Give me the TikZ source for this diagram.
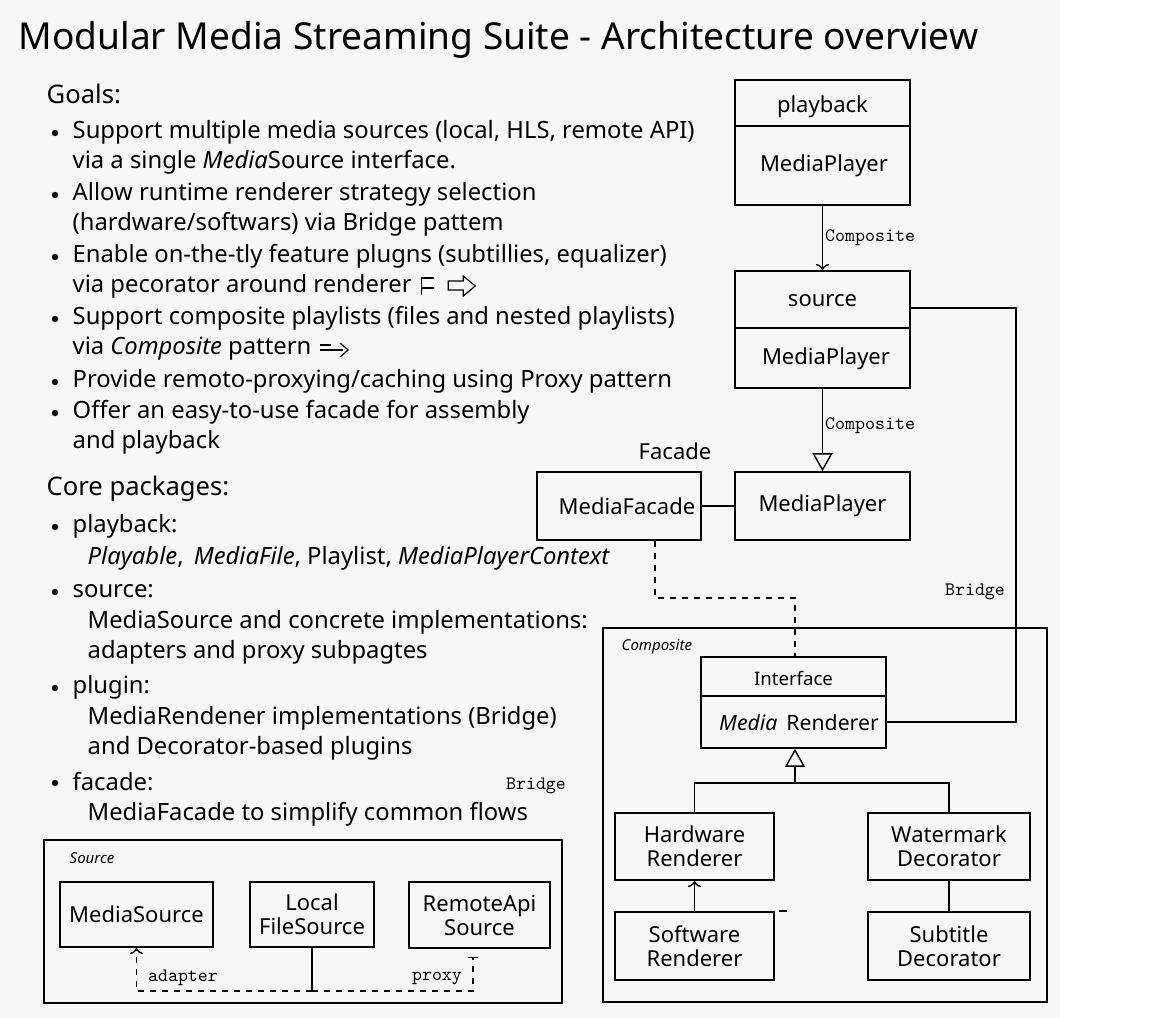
\documentclass[tikz,border=0pt]{standalone}
\usepackage{fontspec}
\setmainfont{Noto Sans}
\usetikzlibrary{arrows.meta,positioning}

\begin{document}
\begin{tikzpicture}[x=0.5pt,y=-0.5pt,
    box/.style={draw, line width=0.8pt, inner sep=0pt, align=center, font=\fontsize{11}{12}\selectfont},
    pkg/.style={draw, line width=0.8pt, inner sep=0pt},
    txt/.style={anchor=west, inner sep=0pt, font=\fontsize{11.9}{14}\selectfont},
    head/.style={anchor=west, inner sep=0pt, font=\fontsize{12.8}{15}\selectfont},
    bul/.style={circle, fill, inner sep=0pt, minimum size=3.2pt},
    lbl/.style={inner sep=1pt, font=\ttfamily\fontsize{9.5}{11}\selectfont},
    tag/.style={anchor=west, inner sep=0pt, font=\itshape\fontsize{7.5}{9}\selectfont},
    tri/.style={-{Triangle[open, width=10pt, length=9pt]}},
    line width=0.7pt]
    % canvas, pixel units
    \useasboundingbox (0,0) rectangle (1152,1018);
    \fill[black!3] (0,0) rectangle (1060,1018);

    % Title
    \node[anchor=west, inner sep=0pt, font=\fontsize{18.55}{22}\selectfont] (title) at (18,40)
        {Modular Media Streaming Suite - Architecture overview};

    % Goals
    \node[head] (goals) at (46,94) {Goals:};
    \foreach \y [count=\i] in {133,195,257,319,382,413}
        \node[bul] (gb\i) at (55,\y) {};
    \node[txt] (g1) at (72,132) {Support multiple media sources (local, HLS, remote API)};
    \node[txt] (g2) at (72,162) {via a single \textit{Media}Source interface.};
    \node[txt] (g3) at (72,194) {Allow runtime renderer strategy selection};
    \node[txt] (g4) at (72,224) {(hardware/softwars) via Bridge pattem};
    \node[txt] (g5) at (72,256) {Enable on-the-tly feature plugns (subtillies, equalizer)};
    \node[txt] (g6) at (72,286) {via pecorator around renderer};
    \node[txt] (g7) at (72,318) {Support composite playlists (files and nested playlists)};
    \node[txt] (g8) at (72,349) {via \textit{Composite} pattern};
    \node[txt] (g9) at (72,381) {Provide remoto-proxying/caching using Proxy pattern};
    \node[txt] (g10) at (72,412) {Offer an easy-to-use facade for assembly};
    \node[txt] (g11) at (72,442) {and playback};

    % little marks after the text
    \begin{scope}[shift={(g6.east)}, line width=0.6pt]
        \draw (9,9) -- (9,-8) -- (22,-8) (9,2) -- (22,2);
        \draw (36,-5) -- (51,-5) -- (51,-10) -- (63,0) -- (51,10) -- (51,4) -- (36,4) -- cycle;
    \end{scope}
    \begin{scope}[shift={(g8.east)}, line width=0.6pt]
        \draw (8,-4) -- (19,-4) (8,1) -- (31,1);
        \draw (28,-6) -- (36,1) -- (28,8);
    \end{scope}

    % Core packages
    \node[head] (core) at (46,489) {Core packages:};
    \foreach \y [count=\i] in {527,592,688,783}
        \node[bul] (cb\i) at (55,\y) {};
    \node[txt] (c1) at (72,526) {playback:};
    \node[txt] (c2) at (87,558) {\textit{Playable},\, \textit{MediaFile}, Playlist, \textit{MediaPlayerContext}};
    \node[txt] (c3) at (72,591) {source:};
    \node[txt] (c4) at (87,622) {MediaSource and concrete implementations:};
    \node[txt] (c5) at (87,652) {adapters and proxy subpagtes};
    \node[txt] (c6) at (72,687) {plugin:};
    \node[txt] (c7) at (87,718) {MediaRendener implementations (Bridge)};
    \node[txt] (c8) at (87,748) {and Decorator-based plugins};
    \node[txt] (c9) at (72,782) {facade:};
    \node[txt] (c10) at (87,814) {MediaFacade to simplify common flows};
    \node[lbl] (bridgeA) at (536,786) {Bridge};

    % Source package
    \node[pkg, minimum width=259pt, minimum height=81.5pt] (srcpkg) at (303,921.5) {};
    \node[tag] (srctag) at (69,858) {Source};
    \node[box, minimum width=76.5pt, minimum height=32.5pt] (ms) at (136.5,914.5) {MediaSource};
    \node[box, minimum width=62pt, minimum height=32.5pt] (lfs) at (312,914.5) {Local\\FileSource};
    \node[box, minimum width=70.5pt, minimum height=33pt, line width=0.6pt] (ras) at (479.5,915) {RemoteApi\\Source};
    \coordinate (jn) at (312,991);
    \coordinate (prx) at (473,957);
    \draw (lfs) -- (jn);
    \draw[dashed, ->] (jn) -| (ms);
    \draw[dashed, -{Bar[width=5pt]}] (jn) -| (prx);
    \node[lbl] (adp) at (183,978) {adapter};
    \node[lbl] (pxy) at (437,978) {proxy};

    % playback / source / facade
    \node[box, minimum width=87.5pt, minimum height=62.5pt] (pb) at (822.5,142.5) {};
    \draw (pb.west |- 0,126) -- (pb.east |- 0,126);
    \node[box, draw=none] (pbname) at (822.5,107) {playback};
    \node[box, draw=none] (pbcls) at (824,166) {MediaPlayer};

    \node[box, minimum width=87.5pt, minimum height=58.5pt] (src) at (822.5,329.5) {};
    \draw (src.west |- 0,328) -- (src.east |- 0,328);
    \node[box, draw=none] (srcname) at (822.5,301) {source};
    \node[box, draw=none] (srccls) at (826,359) {MediaPlayer};

    \node[box, minimum width=87.5pt, minimum height=34pt] (mp) at (822.5,506) {MediaPlayer};
    \node[box, minimum width=82pt, minimum height=34pt] (mf) at (619,506) {\hspace{8pt}MediaFacade};
    \node[box, draw=none] (fcd) at (675,451) {Facade};

    \draw[->] (pb) -- (src) node[lbl, midway, right] {Composite};
    \draw[tri] (src) -- (mp) node[lbl, midway, right, yshift=2pt] {Composite};
    \draw (mf) -- (mp);

    % Composite package
    \node[pkg, minimum width=222pt, minimum height=187pt] (cmppkg) at (825,815) {};
    \node[tag] (cmptag) at (621,647) {Composite};
    \node[box, minimum width=92.5pt, minimum height=45.5pt] (ifc) at (793.5,702.5) {};
    \draw (ifc.west |- 0,696) -- (ifc.east |- 0,696);
    \node[box, draw=none, font=\fontsize{9.3}{11}\selectfont] (ifcname) at (793.5,678) {Interface};
    \node[box, draw=none, font=\fontsize{10.6}{12}\selectfont] (ifccls) at (799,723) {\textit{Media}\, Renderer};

    \node[box, minimum width=79.5pt, minimum height=33.5pt] (hw) at (694.5,846.5) {Hardware\\Renderer};
    \node[box, minimum width=81pt, minimum height=33.5pt] (wm) at (949,846.5) {Watermark\\Decorator};
    \node[box, minimum width=79.5pt, minimum height=34pt] (sw) at (694.5,946) {Software\\Renderer};
    \node[box, minimum width=81pt, minimum height=34pt] (sd) at (949,946) {Subtitle\\Decorator};

    \coordinate (jt) at (795,783);
    \draw[tri] (jt) -- (ifc.south -| jt);
    \draw (hw) |- (jt) -| (wm);
    \draw[->] (sw) -- (hw);
    \draw (wm) -- (sd);
    \draw (779,911) -- (787,911);

    % facade dependency
    \coordinate (dx) at (655,598);
    \draw[dashed] (mf.south -| dx) -- (dx) -| (ifc.north -| jt);

    % bridge
    \coordinate (br) at (1016,308);
    \coordinate (br2) at (1016,722);
    \draw (src.east |- br) -- (br) -- (br2) -- (ifc.east |- br2);
    \node[lbl] (bridgeB) at (975,592) {Bridge};
\end{tikzpicture}
\end{document}
